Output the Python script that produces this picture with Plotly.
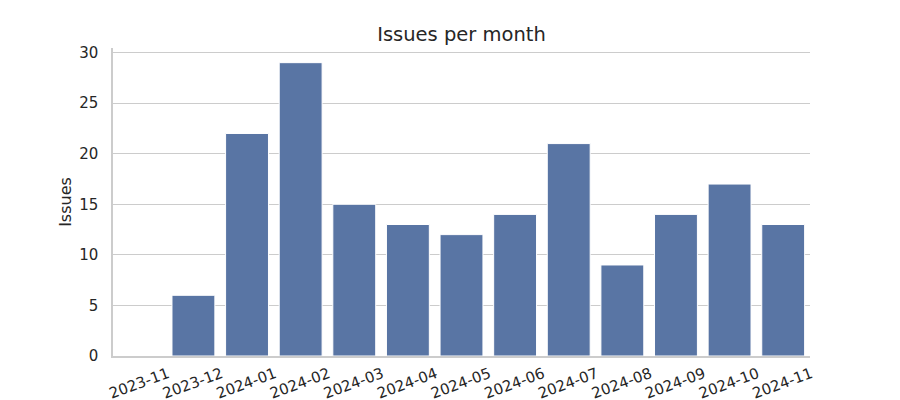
import plotly.graph_objects as go

months = ["2023-11", "2023-12", "2024-01", "2024-02", "2024-03", "2024-04", "2024-05",
          "2024-06", "2024-07", "2024-08", "2024-09", "2024-10", "2024-11"]
issues = [0, 6, 22, 29, 15, 13, 12, 14, 21, 9, 14, 17, 13]
y_ticks = [0, 5, 10, 15, 20, 25, 30]

FONT = "DejaVu Sans"
TXT = "#262626"
GRID = "#cccccc"

fig = go.Figure(go.Bar(
    x=months, y=issues,
    marker=dict(color="#5975a4", line=dict(color="white", width=1)),
    width=0.8,
))

fig.update_layout(
    width=900, height=400,
    margin=dict(l=113, r=90, t=48, b=44),
    paper_bgcolor="white", plot_bgcolor="white",
    showlegend=False,
    title=dict(text="Issues per month", x=(113 + 810) / 2 / 900, xanchor="center",
               y=1 - 34 / 400, yanchor="middle",
               font=dict(family=FONT, size=19.5, color=TXT)),
    font=dict(family=FONT, color=TXT),
)
fig.update_xaxes(
    type="category", range=[-0.5, len(months) - 0.5], automargin=False,
    showgrid=False, showline=True, linecolor=GRID, linewidth=1.5,
    ticks="", tickangle=-20, tickfont=dict(family=FONT, size=15, color=TXT),
    ticklabelshift=28, ticklabelstandoff=2,
)
fig.update_yaxes(
    range=[0, 30.45], tickvals=y_ticks, showgrid=True, gridcolor=GRID, gridwidth=1,
    showline=True, linecolor=GRID, linewidth=1.5, zeroline=False, ticks="",
    automargin=False, ticklabelstandoff=10,
    tickfont=dict(family=FONT, size=15, color=TXT),
    title=dict(text="Issues", font=dict(family=FONT, size=16, color=TXT), standoff=4),
)

fig.write_html("out.html")
